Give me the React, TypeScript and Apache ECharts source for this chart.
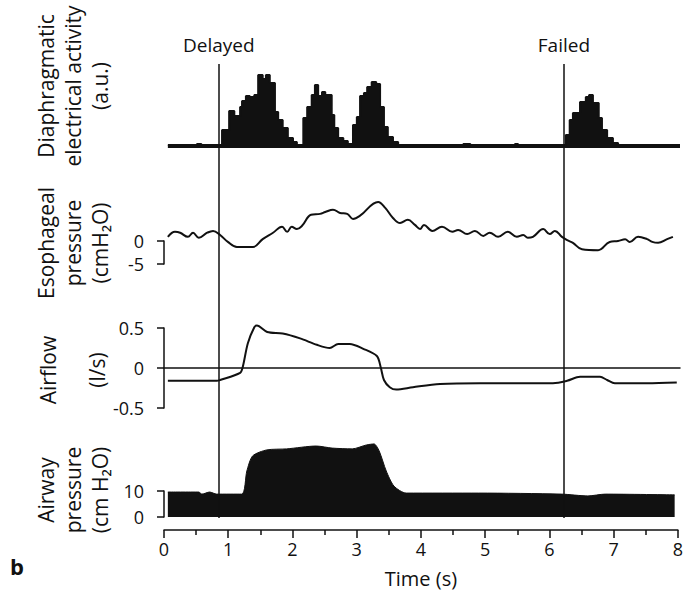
import React, { useEffect, useRef } from 'react';
import * as echarts from 'echarts';

const FONT = '"Open Sans", "Noto Sans", sans-serif';
const INK = '#111';

// Time axis (s)
const timeMin = 0;
const timeMax = 8;

// Diaphragmatic electrical activity (a.u.), step histogram
const emgTime = [0.06, 0.51, 0.58, 0.9, 1.01, 1.09, 1.18, 1.21, 1.27, 1.33, 1.4, 1.46, 1.53, 1.58, 1.64, 1.72, 1.77, 1.84, 1.92, 2.0, 2.06, 2.16, 2.22, 2.29, 2.34, 2.39, 2.45, 2.5, 2.6, 2.64, 2.7, 2.78, 2.85, 2.93, 2.99, 3.04, 3.1, 3.15, 3.22, 3.29, 3.35, 3.41, 3.47, 3.55, 3.63, 4.64, 4.75, 5.44, 5.49, 6.23, 6.29, 6.34, 6.45, 6.54, 6.59, 6.65, 6.74, 6.79, 6.87, 6.96, 7.04, 8.0];
const emgValue = [3, 4, 3, 18, 37, 32, 41, 47, 52, 51, 53, 73, 69, 73, 65, 36, 28, 20, 10, 6, 3, 30, 41, 53, 63, 52, 56, 53, 33, 20, 10, 7, 4, 23, 31, 52, 55, 61, 66, 64, 41, 21, 11, 6, 3, 4, 3, 4, 3, 13, 28, 35, 46, 51, 53, 45, 30, 18, 10, 5, 3, 3];

// Esophageal pressure (cmH2O)
const esoTime = [0.06, 0.17, 0.25, 0.37, 0.45, 0.54, 0.67, 0.76, 0.87, 0.99, 1.13, 1.38, 1.53, 1.69, 1.83, 1.91, 1.98, 2.06, 2.14, 2.28, 2.42, 2.5, 2.62, 2.73, 2.84, 2.93, 3.04, 3.32, 3.43, 3.55, 3.66, 3.78, 3.89, 3.97, 4.03, 4.16, 4.31, 4.47, 4.56, 4.7, 4.82, 4.95, 5.05, 5.18, 5.33, 5.47, 5.57, 5.64, 5.72, 5.88, 5.98, 6.06, 6.17, 6.25, 6.34, 6.48, 6.73, 6.91, 7.04, 7.15, 7.22, 7.35, 7.49, 7.57, 7.66, 7.8, 7.89];
const esoValue = [0.9, 2.0, 1.8, 0.9, 1.8, 0.7, 1.8, 2.2, 1.3, -0.2, -1.3, -1.3, 0.4, 1.8, 3.1, 2.0, 3.1, 2.6, 3.3, 5.7, 5.9, 6.3, 6.8, 6.1, 5.9, 4.8, 5.5, 8.5, 7.2, 5.0, 3.9, 4.6, 3.5, 2.6, 3.5, 2.2, 3.1, 2.0, 2.4, 1.5, 2.2, 1.1, 1.8, 0.9, 2.0, 0.9, 1.3, 0.7, 0.9, 2.6, 1.5, 2.2, 0.9, 0.2, -0.4, -1.8, -2.0, -0.2, 0.0, 0.4, -0.2, 0.9, 0.4, -0.2, -0.4, 0.4, 0.9];

// Airflow (l/s)
const flowTime = [0.06, 0.82, 0.87, 1.18, 1.22, 1.3, 1.4, 1.44, 1.6, 1.84, 2.11, 2.37, 2.57, 2.7, 2.88, 3.09, 3.3, 3.36, 3.41, 3.5, 3.6, 3.86, 4.28, 4.9, 6.03, 6.25, 6.45, 6.76, 6.87, 6.99, 7.49, 7.95];
const flowValue = [-0.16, -0.16, -0.15, -0.06, 0.01, 0.31, 0.51, 0.53, 0.45, 0.43, 0.37, 0.29, 0.25, 0.3, 0.3, 0.24, 0.15, 0.01, -0.15, -0.24, -0.27, -0.24, -0.2, -0.19, -0.19, -0.16, -0.11, -0.11, -0.15, -0.19, -0.19, -0.18];

// Airway pressure (cm H2O)
const pawTime = [0.06, 0.54, 0.59, 0.71, 0.82, 1.21, 1.29, 1.38, 1.6, 1.91, 2.37, 2.62, 2.93, 3.15, 3.27, 3.35, 3.46, 3.58, 3.77, 4.9, 6.19, 6.6, 6.87, 7.95];
const pawValue = [9.6, 9.6, 8.8, 9.6, 8.8, 8.8, 17.7, 23.5, 25.8, 26.2, 27.3, 26.5, 26.2, 27.7, 28.1, 25.4, 17.7, 11.9, 9.2, 9.2, 8.8, 8.1, 8.8, 8.5];

// Events
const eventTimes = [0.85, 6.2];
const eventLabels = ['Delayed', 'Failed'];

const pairs = (t: number[], v: number[]) => t.map((x, i) => [x, v[i]]);

const GRID_LEFT = 164;
const GRID_RIGHT = 6;

const hiddenX = (gridIndex: number) => ({
  type: 'value', gridIndex, min: timeMin, max: timeMax, interval: 1, show: false,
});

const bracketY = (gridIndex: number, min: number, max: number, interval: number) => ({
  type: 'value', gridIndex, min, max, interval, position: 'left', offset: 6,
  axisLine: { show: true, lineStyle: { color: INK, width: 1.5 } },
  axisTick: { show: true, inside: false, length: 7, lineStyle: { color: INK, width: 1.5 } },
  axisLabel: { show: true, color: INK, fontFamily: FONT, fontSize: 18, margin: 14 },
  splitLine: { show: false },
});

function buildOption() {
  return {
    animation: false,
    backgroundColor: '#fff',
    grid: [
      { left: GRID_LEFT, right: GRID_RIGHT, top: 68, height: 80 },
      { left: GRID_LEFT, right: GRID_RIGHT, top: 241, height: 23 },
      { left: GRID_LEFT, right: GRID_RIGHT, top: 328, height: 80 },
      { left: GRID_LEFT, right: GRID_RIGHT, top: 491, height: 26 },
      { left: GRID_LEFT, right: GRID_RIGHT, top: 64, height: 454 },
    ],
    xAxis: [
      hiddenX(0),
      hiddenX(1),
      {
        type: 'value', gridIndex: 2, min: timeMin, max: timeMax, interval: 1,
        axisLine: { show: true, onZero: true, lineStyle: { color: INK, width: 1.5 } },
        axisTick: { show: false }, axisLabel: { show: false }, splitLine: { show: false },
      },
      {
        type: 'value', gridIndex: 3, min: timeMin, max: timeMax, interval: 1,
        position: 'bottom', offset: 13,
        axisLine: { show: true, onZero: false, lineStyle: { color: INK, width: 1.5 } },
        axisTick: { show: true, inside: false, length: 8, lineStyle: { color: INK, width: 1.5 } },
        minorTick: { show: true, splitNumber: 2, length: 5, lineStyle: { color: INK, width: 1.5 } },
        axisLabel: { color: INK, fontFamily: FONT, fontSize: 18, margin: 10 },
        splitLine: { show: false },
        name: 'Time (s)', nameLocation: 'middle', nameGap: 38,
        nameTextStyle: { color: INK, fontFamily: FONT, fontSize: 20 },
      },
      hiddenX(4),
    ],
    yAxis: [
      { type: 'value', gridIndex: 0, min: 0, max: 80, show: false },
      bracketY(1, -5, 0, 5),
      bracketY(2, -0.5, 0.5, 0.5),
      bracketY(3, 0, 10, 10),
      { type: 'value', gridIndex: 4, min: 0, max: 1, show: false },
    ],
    series: [
      {
        type: 'line', xAxisIndex: 0, yAxisIndex: 0, step: 'end', symbol: 'none',
        data: pairs(emgTime, emgValue),
        lineStyle: { color: INK, width: 2 },
        areaStyle: { color: INK, opacity: 1 },
      },
      {
        type: 'line', xAxisIndex: 1, yAxisIndex: 1, symbol: 'none', smooth: 0.4, clip: false,
        data: pairs(esoTime, esoValue),
        lineStyle: { color: INK, width: 2 },
      },
      {
        type: 'line', xAxisIndex: 2, yAxisIndex: 2, symbol: 'none', smooth: 0.3, clip: false,
        data: pairs(flowTime, flowValue),
        lineStyle: { color: INK, width: 2 },
      },
      {
        type: 'line', xAxisIndex: 3, yAxisIndex: 3, symbol: 'none', smooth: 0.25, clip: false,
        data: pairs(pawTime, pawValue),
        lineStyle: { color: INK, width: 1 },
        areaStyle: { color: INK, opacity: 1 },
      },
      {
        type: 'line', xAxisIndex: 4, yAxisIndex: 4, symbol: 'none', data: [],
        markLine: {
          silent: true, symbol: 'none', animation: false,
          lineStyle: { color: INK, width: 1.5, type: 'solid' },
          label: { show: true, position: 'end', distance: 10, color: INK, fontFamily: FONT, fontSize: 19 },
          data: eventTimes.map((t, i) => ({ xAxis: t, label: { formatter: eventLabels[i] } })),
        },
      },
    ],
    graphic: [
      {
        type: 'text', x: 73, y: 86, rotation: Math.PI / 2,
        style: { text: 'Diaphragmatic\nelectrical activity\n(a.u.)', fill: INK, font: `21px ${FONT}`, align: 'center', verticalAlign: 'middle', lineHeight: 27 },
      },
      {
        type: 'text', x: 73, y: 243, rotation: Math.PI / 2,
        style: { text: 'Esophageal\npressure\n(cmH\u2082O)', fill: INK, font: `21px ${FONT}`, align: 'center', verticalAlign: 'middle', lineHeight: 27 },
      },
      {
        type: 'text', x: 48, y: 370, rotation: Math.PI / 2,
        style: { text: 'Airflow', fill: INK, font: `21px ${FONT}`, align: 'center', verticalAlign: 'middle' },
      },
      {
        type: 'text', x: 97, y: 370, rotation: Math.PI / 2,
        style: { text: '(l/s)', fill: INK, font: `21px ${FONT}`, align: 'center', verticalAlign: 'middle' },
      },
      {
        type: 'text', x: 73, y: 490, rotation: Math.PI / 2,
        style: { text: 'Airway\npressure\n(cm H\u2082O)', fill: INK, font: `21px ${FONT}`, align: 'center', verticalAlign: 'middle', lineHeight: 27 },
      },
      {
        type: 'text', x: 17, y: 566,
        style: { text: 'b', fill: INK, font: `bold 22px ${FONT}`, align: 'center', verticalAlign: 'middle' },
      },
    ],
  };
}

export default function App() {
  const ref = useRef<HTMLDivElement>(null);
  useEffect(() => {
    if (!ref.current) return;
    const chart = echarts.init(ref.current, null, { renderer: 'svg' });
    chart.setOption(buildOption() as any);
    return () => chart.dispose();
  }, []);
  return (
    <div
      ref={ref}
      style={{ position: 'fixed', left: 0, top: 0, width: 686, height: 596, background: '#fff' }}
    />
  );
}
